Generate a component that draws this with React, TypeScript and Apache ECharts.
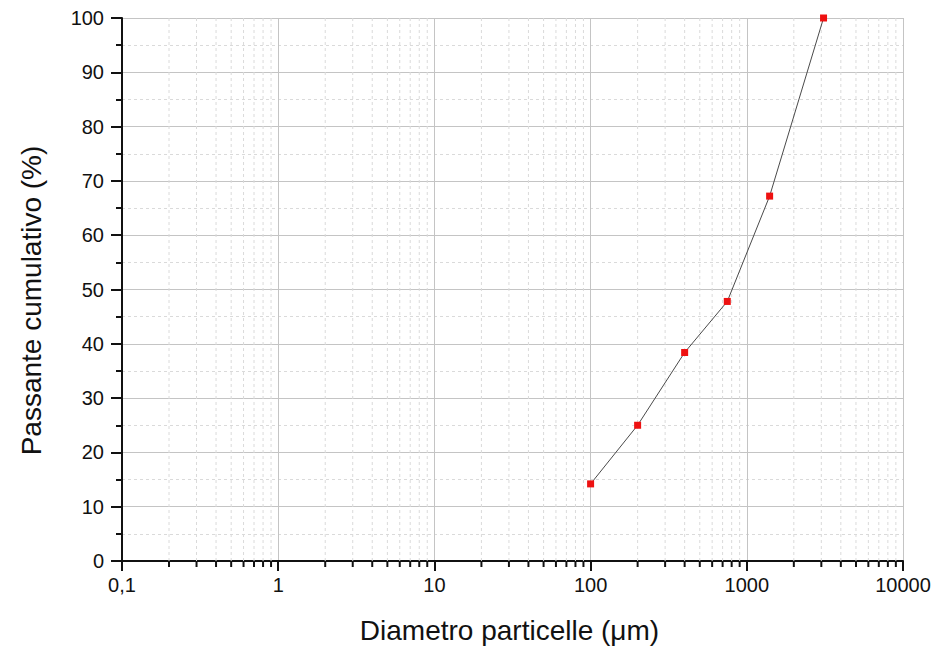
import React, { useEffect, useRef } from "react";
import * as echarts from "echarts";

// Data
const diameters = [100, 200, 400, 750, 1400, 3100];
const passing = [14.2, 25.0, 38.4, 47.8, 67.2, 100];

// Axis definitions
const xMin = 0.1;
const xMax = 10000;
const yMin = 0;
const yMax = 100;
const yInterval = 10;
const decades = [0.1, 1, 10, 100, 1000];
const minorMultipliers = [2, 3, 4, 5, 6, 7, 8, 9];

const FONT = "'Liberation Sans', Arial, Helvetica, sans-serif";

export default function App() {
  const ref = useRef<HTMLDivElement>(null);

  useEffect(() => {
    if (!ref.current) return;
    const chart = echarts.init(ref.current, undefined, { renderer: "svg" });

    const minorX: number[][] = [];
    decades.forEach((d) =>
      minorMultipliers.forEach((m) => minorX.push([parseFloat((d * m).toPrecision(6)), 0]))
    );

    const option: any = {
      animation: false,
      backgroundColor: "#ffffff",
      grid: { left: 122, right: 44, top: 18, bottom: 86, containLabel: false },
      xAxis: {
        type: "log",
        logBase: 10,
        min: xMin,
        max: xMax,
        name: "Diametro particelle (\u03bcm)",
        nameLocation: "middle",
        nameGap: 55,
        nameTextStyle: { fontFamily: FONT, fontSize: 28, color: "#111", padding: [0, 6, 0, 0] },
        axisLine: { show: true, onZero: false, lineStyle: { color: "#111", width: 2 } },
        axisTick: { show: true, inside: false, length: 10, lineStyle: { color: "#111", width: 2 } },
        axisLabel: {
          fontFamily: FONT,
          fontSize: 20,
          color: "#111",
          margin: 14,
          formatter: (v: number) => String(v).replace(".", ","),
        },
        splitLine: { show: true, lineStyle: { color: "#c4c4c4", width: 1 } },
        minorTick: { show: false },
        minorSplitLine: { show: false },
      },
      yAxis: {
        type: "value",
        min: yMin,
        max: yMax,
        interval: yInterval,
        name: "Passante cumulativo (%)",
        nameLocation: "middle",
        nameGap: 77,
        nameTextStyle: { fontFamily: FONT, fontSize: 28, color: "#111", padding: [0, 22, 0, 0] },
        axisLine: { show: true, lineStyle: { color: "#111", width: 2 } },
        axisTick: { show: true, inside: false, length: 11, lineStyle: { color: "#111", width: 2 } },
        minorTick: { show: true, splitNumber: 2, length: 6, lineStyle: { color: "#111", width: 2 } },
        axisLabel: { fontFamily: FONT, fontSize: 20, color: "#111", margin: 18 },
        splitLine: { show: true, lineStyle: { color: "#c4c4c4", width: 1 } },
        minorSplitLine: { show: true, lineStyle: { color: "#dadada", width: 1, type: [3, 3] } },
      },
      series: [
        {
          type: "custom",
          silent: true,
          clip: false,
          z: 1,
          encode: { x: 0, y: 1 },
          data: minorX,
          renderItem: (params: any, api: any) => {
            const v = api.value(0);
            const top = api.coord([v, yMax]);
            const bot = api.coord([v, yMin]);
            return {
              type: "group",
              children: [
                {
                  type: "line",
                  shape: { x1: bot[0], y1: top[1], x2: bot[0], y2: bot[1] },
                  style: { stroke: "#dadada", lineWidth: 1, lineDash: [3, 3] },
                },
                {
                  type: "line",
                  shape: { x1: bot[0], y1: bot[1], x2: bot[0], y2: bot[1] + 6 },
                  style: { stroke: "#111", lineWidth: 2 },
                },
              ],
            };
          },
        },
        {
          type: "line",
          z: 5,
          data: diameters.map((d, i) => [d, passing[i]]),
          symbol: "rect",
          symbolSize: 7,
          showSymbol: true,
          clip: true,
          lineStyle: { color: "#4a4a4a", width: 1 },
          itemStyle: { color: "#ee1111" },
        },
      ],
    };

    chart.setOption(option);
    return () => chart.dispose();
  }, []);

  return (
    <div
      ref={ref}
      style={{ position: "fixed", left: 0, top: 0, width: 947, height: 649, background: "#fff" }}
    />
  );
}
